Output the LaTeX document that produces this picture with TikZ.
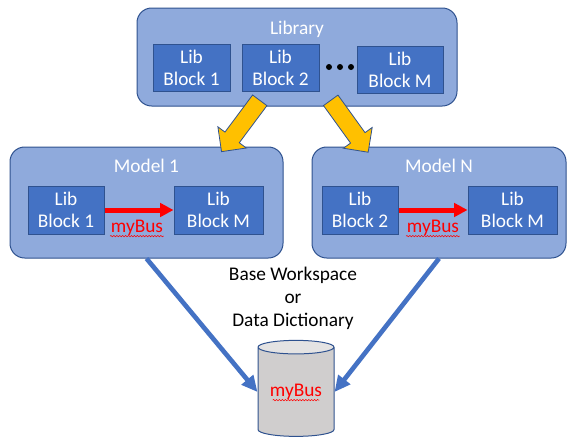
\documentclass[tikz,border=0pt]{standalone}
\usepackage{fontspec}
\setmainfont{Carlito}
\usetikzlibrary{arrows.meta,shapes.geometric,shapes.arrows,decorations.pathmorphing}

\definecolor{panelblue}{HTML}{8FAADC}
\definecolor{edgeblue}{HTML}{2F528F}
\definecolor{blockblue}{HTML}{4472C4}
\definecolor{dbgray}{HTML}{D0CECE}
\definecolor{dbtop}{HTML}{E4E3E3}
\definecolor{goldarrow}{HTML}{FFC000}

\begin{document}
\begin{tikzpicture}[
  x=0.75pt, y=0.75pt,
  font=\fontsize{14.5}{16}\selectfont,
  panel/.style={
    draw=edgeblue,
    line width=0.75pt,
    fill=panelblue,
    rounded corners=11pt,
    inner sep=0pt
  },
  title/.style={text=white, inner sep=0pt},
  libblock/.style={
    draw=edgeblue,
    line width=0.75pt,
    fill=blockblue,
    text=white,
    align=center,
    inner sep=0pt,
    minimum height=35pt
  },
  busarrow/.style={-{Triangle[length=10pt,width=10pt]}, line width=3.75pt, draw=red},
  buslabel/.style={text=red, inner sep=0.5pt},
  wavy/.style={draw=red, line width=0.4pt,
    decorate, decoration={snake, amplitude=0.5pt, segment length=2.2pt}},
  usearrow/.style={-{Triangle[length=12pt,width=11pt]}, line width=3.5pt, draw=blockblue},
  fetcharrow/.style={
    single arrow,
    draw=edgeblue,
    line width=0.6pt,
    fill=goldarrow,
    inner xsep=0pt,
    inner ysep=6.4pt,
    single arrow head extend=6.6pt,
    single arrow tip angle=90,
    minimum height=48pt,
    anchor=tail
  },
  database/.style={
    cylinder,
    shape border rotate=90,
    aspect=0.26,
    draw=edgeblue,
    line width=0.75pt,
    cylinder uses custom fill,
    cylinder body fill=dbgray,
    cylinder end fill=dbtop,
    text=red,
    inner sep=0pt
  }
]

\useasboundingbox (0,0) rectangle (575,-447);

% library with its blocks
\node[panel, minimum width=240pt, minimum height=73.5pt] (library) at (297,-57) {};
\node[title] (libraryTitle) at ([yshift=-16.5pt]library.north) {Library};

\node[libblock, minimum width=57.75pt] (libOne) at (191.5,-68) {Lib\\Block 1};
\node[libblock, minimum width=57.75pt] (libTwo) at (280.5,-68) {Lib\\Block 2};
\node[libblock, minimum width=64.5pt] (libM) at (400,-70) {Lib\\Block M};
\foreach \dx in {329,340,351}
  \fill (\dx,-67) circle (3);

% model 1
\node[panel, minimum width=204.75pt, minimum height=83.25pt] (modelOne) at (146.5,-202.5) {};
\node[title] (modelOneTitle) at ([yshift=-14.25pt]modelOne.north) {Model 1};
\node[libblock, minimum width=57pt, minimum height=36pt] (oneSrc) at (66,-210) {Lib\\Block 1};
\node[libblock, minimum width=66.75pt, minimum height=36pt] (oneDst) at (218.5,-210) {Lib\\Block M};
\draw[busarrow] (oneSrc.east) -- (oneDst.west);
\node[buslabel] (oneBus) at (137,-228) {myBus};
\draw[wavy] ([yshift=-2.6pt]oneBus.base west) -- ([yshift=-2.6pt]oneBus.base east);

% model N
\node[panel, minimum width=190.5pt, minimum height=83.25pt] (modelN) at (439,-202.5) {};
\node[title] (modelNTitle) at ([yshift=-14.25pt]modelN.north) {Model N};
\node[libblock, minimum width=57pt, minimum height=36pt] (nSrc) at (360,-210) {Lib\\Block 2};
\node[libblock, minimum width=66.75pt, minimum height=36pt] (nDst) at (512.5,-210) {Lib\\Block M};
\draw[busarrow] (nSrc.east) -- (nDst.west);
\node[buslabel] (nBus) at (433,-228) {myBus};
\draw[wavy] ([yshift=-2.6pt]nBus.base west) -- ([yshift=-2.6pt]nBus.base east);

% library blocks go into the models
\coordinate (pickOne) at (260,-100);
\coordinate (pickN) at (330.5,-100);
\node[fetcharrow, rotate=233.3] (fetchOne) at (pickOne) {};
\node[fetcharrow, rotate=-54.2] (fetchN) at (pickN) {};

% shared storage
\node[align=center, font=\fontsize{14.5}{17.25}\selectfont] (store) at (293,-298)
  {Base Workspace\\or\\Data Dictionary};
\node[database, minimum width=57pt, minimum height=72pt] (dict) at (296,-392) {myBus};
\draw[wavy] ([yshift=-2.6pt]dict.text -| dict.center) ++(-17.5pt,0) -- ++(35pt,0);

\draw[usearrow] (modelOne.south) -- (dict.west);
\draw[usearrow] (modelN.south) -- (dict.east);

\end{tikzpicture}
\end{document}
